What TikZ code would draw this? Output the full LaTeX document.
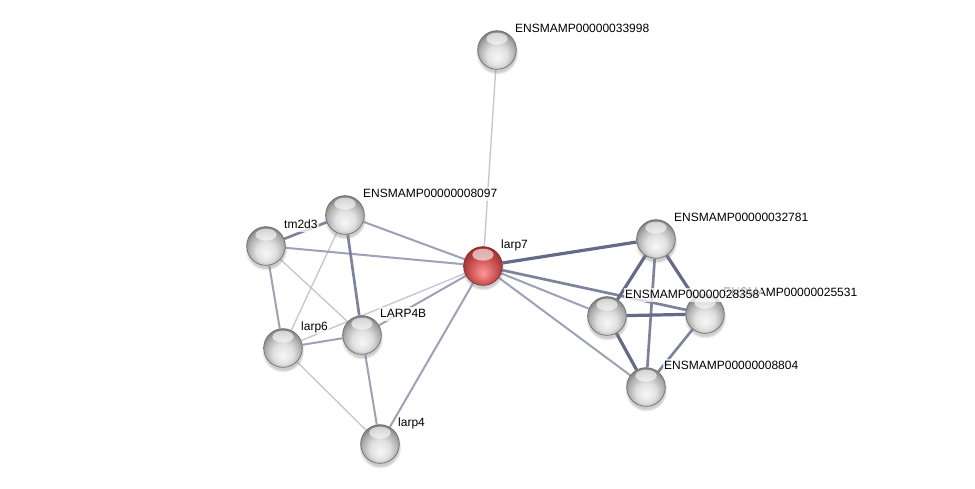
\documentclass[tikz,border=0pt]{standalone}
\usepackage{fontspec}
\setsansfont{Liberation Sans}
\usetikzlibrary{shadows,backgrounds}

\definecolor{edgeheavy}{HTML}{656B87}
\definecolor{edgestrong}{HTML}{7D839D}
\definecolor{edgemid}{HTML}{9DA2B7}
\definecolor{edgeweak}{HTML}{C3C6D4}
\definecolor{rimgrey}{HTML}{6E6E6E}
\definecolor{rimred}{HTML}{862A2E}

\pgfdeclareradialshading{greyball}{\pgfpoint{0bp}{-10bp}}{color(0bp)=(black!3);
  color(13bp)=(black!12); color(23bp)=(black!32); color(31bp)=(black!56); color(50bp)=(black!62)}
\pgfdeclareradialshading{redball}{\pgfpoint{0bp}{-10bp}}{color(0bp)=(red!40!white);
  color(13bp)=(red!55!white!85!black); color(23bp)=(red!60!black!75!white); color(31bp)=(red!55!black!85!white); color(50bp)=(red!45!black)}

\begin{document}
\begin{tikzpicture}[x=0.75pt,y=-0.75pt,
    protein/.style={circle,minimum size=29pt,inner sep=0pt,draw=rimgrey,line width=0.5pt,
      shading=greyball,
      circular drop shadow={shadow xshift=0pt,shadow yshift=-2.2pt,opacity=0.4},
      path picture={\fill[white,opacity=0.6] ([yshift=-6pt]path picture bounding box.north)
        ellipse (8pt and 4.5pt);}},
    query/.style={protein,draw=rimred,shading=redball},
    lbl/.style={font=\sffamily\fontsize{9}{10}\selectfont,fill=white,fill opacity=0.75,
      text opacity=1,inner sep=1pt,text height=6.5pt,text depth=1.8pt,xshift=2pt},
    weak/.style={line width=1pt,draw=edgeweak},
    mid/.style={line width=1.5pt,draw=edgemid},
    strong/.style={line width=2pt,draw=edgestrong},
    heavy/.style={line width=2.4pt,draw=edgeheavy}]

  \useasboundingbox (0,0) rectangle (975,489);

  % proteins
  \node[protein,label={[lbl]above right:ENSMAMP00000033998}] (p33998) at (497,50) {};
  \node[protein,label={[lbl]above right:ENSMAMP00000008097}] (p8097) at (345,215) {};
  \node[protein,label={[lbl]above right:tm2d3}] (tm2d3) at (266,246) {};
  \node[query,label={[lbl]above right:larp7}] (larp7) at (483,266) {};
  \node[protein,label={[lbl]above right:larp6}] (larp6) at (283,348) {};
  \node[protein,label={[lbl]above right:LARP4B}] (larp4b) at (362,335) {};
  \node[protein,label={[lbl]above right:larp4}] (larp4) at (380,444) {};
  \node[protein,label={[lbl]above right:ENSMAMP00000032781}] (p32781) at (656,239) {};
  \node[protein,label={[lbl]above right:ENSMAMP00000025531}] (p25531) at (705,314) {};
  \node[protein,label={[lbl]above right:ENSMAMP00000028358}] (p28358) at (607,316) {};
  \node[protein,label={[lbl]above right:ENSMAMP00000008804}] (p8804) at (646,387) {};

  % interactions
  \begin{pgfonlayer}{background}
    \fill[white] (0,0) rectangle (975,489);
    \foreach \a/\b in {p33998/larp7,p8097/larp6,tm2d3/larp4b,larp6/larp4,larp6/larp7}
      \draw[weak] (\a) -- (\b);
    \foreach \a/\b in {p8097/larp7,tm2d3/larp7,tm2d3/larp6,larp6/larp4b,larp4b/larp7,
      larp4b/larp4,larp4/larp7,larp7/p28358,larp7/p8804}
      \draw[mid] (\a) -- (\b);
    \foreach \a/\b in {p8097/tm2d3,p8097/larp4b,larp7/p25531,p25531/p8804,p32781/p8804}
      \draw[strong] (\a) -- (\b);
    \foreach \a/\b in {larp7/p32781,p32781/p28358,p32781/p25531,p28358/p25531,p28358/p8804}
      \draw[heavy] (\a) -- (\b);
  \end{pgfonlayer}
\end{tikzpicture}
\end{document}
